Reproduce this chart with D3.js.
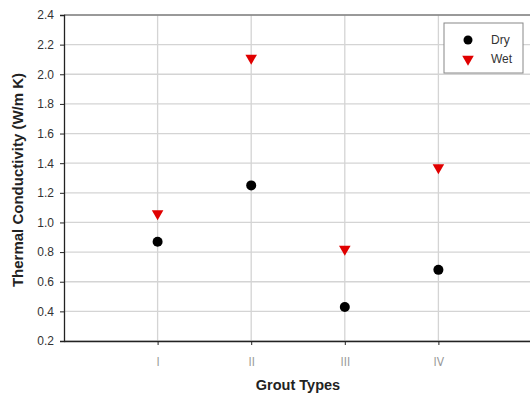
<!DOCTYPE html>
<html>
<head>
<meta charset="utf-8">
<script src="https://cdn.jsdelivr.net/npm/d3@7"></script>
<style>
  body { margin: 0; background: #fff; }
  svg { display: block; font-family: Arial, "Liberation Sans", sans-serif; }
</style>
</head>
<body>
<svg id="chart" width="530" height="394"></svg>
<script>
// grout types and measured conductivity
var groutTypes = ["I", "II", "III", "IV"];
var dryValues = [0.87, 1.25, 0.43, 0.68];
var wetValues = [1.06, 2.11, 0.82, 1.37];
var yTicks = [0.2, 0.4, 0.6, 0.8, 1.0, 1.2, 1.4, 1.6, 1.8, 2.0, 2.2, 2.4];

var svg = d3.select("#chart");
var margin = {top: 15, right: -2, bottom: 53, left: 64},
    width = +svg.attr("width") - margin.left - margin.right,
    height = +svg.attr("height") - margin.top - margin.bottom;

var g = svg.append("g").attr("transform", "translate(" + margin.left + "," + margin.top + ")");

// categories sit at 1..4 on a 0..5 scale
var x = d3.scaleLinear().domain([0, 5]).range([0, width]);
var y = d3.scaleLinear().domain([0.2, 2.4]).range([height, 0]);

// horizontal grid
g.append("g")
  .selectAll("line")
  .data(yTicks)
  .enter().append("line")
    .attr("x1", 0).attr("x2", width)
    .attr("y1", function(d) { return y(d); })
    .attr("y2", function(d) { return y(d); })
    .attr("stroke", "#d4d4d4")
    .attr("stroke-width", 1.3);

// vertical grid at each grout type
g.append("g")
  .selectAll("line")
  .data(groutTypes)
  .enter().append("line")
    .attr("x1", function(d, i) { return x(i + 1); })
    .attr("x2", function(d, i) { return x(i + 1); })
    .attr("y1", 0).attr("y2", height)
    .attr("stroke", "#d4d4d4")
    .attr("stroke-width", 1.3);

// top border
g.append("line")
  .attr("x1", 0).attr("x2", width).attr("y1", 0).attr("y2", 0)
  .attr("stroke", "#555").attr("stroke-width", 1);

// y axis
var yAxis = g.append("g")
  .call(d3.axisLeft(y).tickValues(yTicks).tickFormat(d3.format(".1f")).tickSize(4).tickPadding(6));
yAxis.select(".domain").attr("stroke", "#222").attr("stroke-width", 1.3);
yAxis.selectAll(".tick line").attr("stroke", "#222");
yAxis.selectAll("text").attr("font-size", 12).attr("fill", "#333");

// x axis
var xAxis = g.append("g")
  .attr("transform", "translate(0," + height + ")")
  .call(d3.axisBottom(x).tickValues([1, 2, 3, 4])
    .tickFormat(function(d) { return groutTypes[d - 1]; })
    .tickSize(4).tickSizeOuter(0).tickPadding(12));
xAxis.select(".domain").attr("stroke", "#222").attr("stroke-width", 1.3);
xAxis.selectAll(".tick line").attr("stroke", "#222");
xAxis.selectAll("text").attr("font-size", 12).attr("fill", "#999")
  .attr("font-family", "'DejaVu Sans Condensed', 'Liberation Sans Narrow', sans-serif");

// dry points
g.append("g")
  .selectAll("circle")
  .data(dryValues)
  .enter().append("circle")
    .attr("cx", function(d, i) { return x(i + 1); })
    .attr("cy", function(d) { return y(d); })
    .attr("r", 5)
    .attr("fill", "#000");

// wet points
var tri = d3.symbol().type(d3.symbolTriangle).size(58);
g.append("g")
  .selectAll("path")
  .data(wetValues)
  .enter().append("path")
    .attr("d", tri)
    .attr("transform", function(d, i) { return "translate(" + x(i + 1) + "," + y(d) + ") rotate(180)"; })
    .attr("fill", "#e00000");

// axis titles
svg.append("text")
  .attr("transform", "translate(23," + (margin.top + 165) + ") rotate(-90)")
  .attr("text-anchor", "middle")
  .attr("font-size", 15)
  .attr("font-weight", "bold")
  .attr("fill", "#222")
  .text("Thermal Conductivity (W/m K)");

svg.append("text")
  .attr("x", 298)
  .attr("y", 390)
  .attr("text-anchor", "middle")
  .attr("font-size", 14.5)
  .attr("font-weight", "bold")
  .attr("fill", "#222")
  .text("Grout Types");

// legend
var legend = svg.append("g").attr("transform", "translate(444,23)");
legend.append("rect")
  .attr("width", 79).attr("height", 50)
  .attr("fill", "#fff").attr("stroke", "#888").attr("stroke-width", 1);
legend.append("circle").attr("cx", 24).attr("cy", 17).attr("r", 4.5).attr("fill", "#000");
legend.append("path").attr("d", tri).attr("transform", "translate(24,36) rotate(180)").attr("fill", "#e00000");
legend.append("text").attr("x", 47).attr("y", 21).attr("font-size", 12).attr("fill", "#333").text("Dry");
legend.append("text").attr("x", 47).attr("y", 40).attr("font-size", 12).attr("fill", "#333").text("Wet");
</script>
</body>
</html>
